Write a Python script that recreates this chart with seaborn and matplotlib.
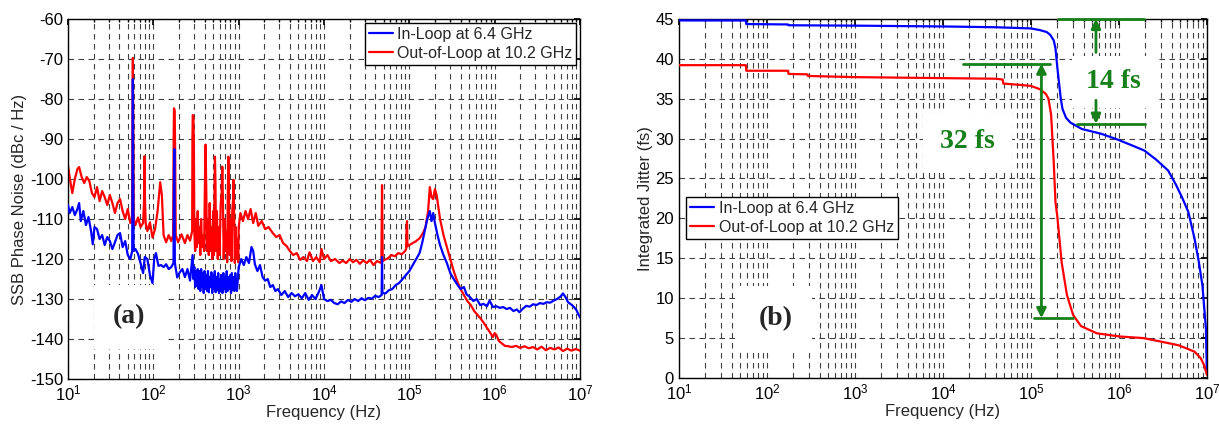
import numpy as np
import matplotlib
matplotlib.use("Agg")
import matplotlib.pyplot as plt
import seaborn as sns

sns.set_theme(style="white")
plt.rcParams['font.family'] = ['Liberation Sans', 'DejaVu Sans']
plt.rcParams['mathtext.fontset'] = 'custom'
plt.rcParams['mathtext.rm'] = 'Liberation Sans'
plt.rcParams['axes.unicode_minus'] = False

# ---- panel (a): SSB phase noise, log10(f) and dBc/Hz ----
red_pn_logf = [1.00, 1.03, 1.05, 1.08, 1.11, 1.13, 1.16, 1.19, 1.22, 1.25, 1.28, 1.31, 1.34, 1.37, 1.40,
               1.43, 1.46, 1.49, 1.52, 1.55, 1.58, 1.61, 1.64, 1.67, 1.70, 1.73, 1.75, 1.755, 1.76, 1.765,
               1.77, 1.79, 1.82, 1.85, 1.88, 1.89, 1.895, 1.90, 1.91, 1.93, 1.96, 1.99, 2.02, 2.05, 2.08,
               2.10, 2.12, 2.15, 2.18, 2.21, 2.232, 2.238, 2.242, 2.25, 2.255, 2.262, 2.29, 2.33, 2.37, 2.40,
               2.43, 2.455, 2.458, 2.462, 2.47, 2.475, 2.48, 2.49, 2.50, 2.51, 2.52, 2.53, 2.54, 2.55, 2.56,
               2.57, 2.58, 2.595, 2.605, 2.612, 2.62, 2.628, 2.64, 2.65, 2.66, 2.67, 2.68, 2.69, 2.70, 2.71,
               2.718, 2.722, 2.728, 2.735, 2.745, 2.755, 2.765, 2.775, 2.79, 2.80, 2.808, 2.815, 2.825, 2.835, 2.845,
               2.855, 2.865, 2.872, 2.879, 2.886, 2.895, 2.905, 2.915, 2.925, 2.935, 2.94, 2.945, 2.955, 2.965, 2.975,
               2.985, 2.995, 3.00, 3.02, 3.05, 3.08, 3.11, 3.14, 3.17, 3.20, 3.23, 3.27, 3.31, 3.35, 3.40,
               3.44, 3.48, 3.52, 3.56, 3.60, 3.64, 3.68, 3.72, 3.76, 3.80, 3.83, 3.87, 3.91, 3.95, 3.97,
               4.00, 4.04, 4.08, 4.13, 4.18, 4.22, 4.26, 4.30, 4.34, 4.38, 4.42, 4.46, 4.50, 4.54, 4.58,
               4.62, 4.672, 4.677, 4.68, 4.683, 4.688, 4.71, 4.75, 4.79, 4.83, 4.87, 4.91, 4.95, 4.963, 4.968,
               4.973, 4.978, 5.00, 5.04, 5.08, 5.12, 5.16, 5.19, 5.22, 5.24, 5.26, 5.28, 5.30, 5.32, 5.34,
               5.36, 5.40, 5.44, 5.48, 5.52, 5.56, 5.60, 5.64, 5.68, 5.72, 5.76, 5.80, 5.84, 5.88, 5.92,
               5.95, 5.98, 6.00, 6.02, 6.05, 6.08, 6.12, 6.16, 6.20, 6.25, 6.30, 6.35, 6.40, 6.45, 6.50,
               6.55, 6.60, 6.65, 6.70, 6.75, 6.80, 6.85, 6.90, 6.95, 7.00]
red_pn_dbc = [-96.7, -101, -103.5, -100, -97.5, -97, -99.5, -101, -99.5, -100.5, -103.5, -104.5, -102, -105.5, -103,
              -104.5, -106.5, -104, -106, -108.5, -106, -105, -108, -110, -107.5, -111, -110, -85, -69.7, -88,
              -110, -111.5, -109.6, -112, -111, -106, -94.3, -104, -111, -113, -110.8, -114.6, -112.5, -108, -100.8,
              -104, -114, -115.8, -114, -115.5, -114, -90, -82.3, -83, -92, -114, -115.8, -113.8, -116, -114,
              -115.4, -113, -90, -84, -84.5, -92, -113, -118, -110, -117, -108, -116, -112, -119, -110,
              -117, -114, -118, -100, -91.4, -102, -118, -110, -119, -106, -118, -112, -120, -108, -119,
              -100, -94.4, -101, -118, -108, -120, -112, -119, -106, -104, -96.9, -105, -120, -110, -118,
              -113, -120.8, -105, -94.4, -104, -119, -110, -120.5, -108, -105, -100.2, -106, -121, -112, -120,
              -115, -120.8, -112, -108.5, -110.5, -108, -110, -107.5, -111, -108.5, -111.7, -110.5, -112.5, -112, -113.5,
              -114.5, -114, -116, -116.7, -118, -119, -118.5, -120.2, -119.5, -120.5, -118.3, -120.5, -119.5, -120.8, -117.5,
              -120, -119, -120.5, -120, -121, -120.4, -121, -120, -120.8, -120.2, -121.2, -120.3, -121, -120.2, -121.5,
              -120.5, -121, -108, -101.5, -108, -120.5, -120.2, -119.8, -119, -119.3, -118.5, -118.8, -118, -117.5, -112,
              -110.5, -116.8, -116.5, -116, -115.5, -114.8, -113.5, -112, -108, -102, -104.5, -105, -102.5, -104, -107,
              -110, -114, -117, -120, -123, -125.5, -127.5, -129, -130.5, -131.5, -133, -134, -135, -136.2, -137.5,
              -138.5, -139.5, -138.5, -139, -140.5, -141, -141.7, -141.8, -142, -141.7, -142.2, -141.8, -142.3, -142, -142.6,
              -141.9, -142.8, -142.2, -142.6, -142.1, -143, -142.4, -142.9, -142.5, -142.9]

blue_pn_logf = [1.00, 1.02, 1.05, 1.08, 1.11, 1.13, 1.15, 1.18, 1.21, 1.24, 1.27, 1.29, 1.31, 1.34, 1.37,
                1.40, 1.43, 1.46, 1.49, 1.52, 1.55, 1.58, 1.61, 1.64, 1.67, 1.70, 1.73, 1.752, 1.757, 1.76,
                1.763, 1.768, 1.79, 1.82, 1.85, 1.88, 1.90, 1.93, 1.96, 1.99, 2.01, 2.03, 2.06, 2.09, 2.12,
                2.15, 2.18, 2.21, 2.236, 2.242, 2.246, 2.252, 2.28, 2.31, 2.34, 2.37, 2.40, 2.43, 2.46, 2.47,
                2.48, 2.49, 2.50, 2.51, 2.52, 2.53, 2.54, 2.55, 2.56, 2.57, 2.58, 2.59, 2.60, 2.61, 2.62,
                2.63, 2.64, 2.65, 2.66, 2.67, 2.68, 2.69, 2.70, 2.71, 2.72, 2.73, 2.74, 2.75, 2.76, 2.77,
                2.78, 2.79, 2.80, 2.81, 2.82, 2.83, 2.84, 2.85, 2.86, 2.87, 2.88, 2.89, 2.90, 2.91, 2.92,
                2.93, 2.94, 2.95, 2.96, 2.97, 2.98, 3.00, 3.03, 3.06, 3.09, 3.12, 3.15, 3.17, 3.19, 3.22,
                3.25, 3.28, 3.31, 3.34, 3.37, 3.40, 3.43, 3.46, 3.50, 3.54, 3.58, 3.62, 3.66, 3.70, 3.74,
                3.78, 3.82, 3.86, 3.90, 3.94, 3.97, 4.00, 4.04, 4.08, 4.12, 4.16, 4.20, 4.24, 4.28, 4.32,
                4.36, 4.40, 4.44, 4.48, 4.52, 4.56, 4.60, 4.64, 4.675, 4.68, 4.685, 4.72, 4.76, 4.80, 4.84,
                4.88, 4.92, 4.96, 5.00, 5.04, 5.08, 5.12, 5.15, 5.18, 5.21, 5.24, 5.26, 5.28, 5.30, 5.33,
                5.36, 5.40, 5.44, 5.48, 5.52, 5.56, 5.60, 5.64, 5.67, 5.71, 5.75, 5.79, 5.83, 5.87, 5.91,
                5.94, 5.98, 6.02, 6.06, 6.10, 6.14, 6.18, 6.22, 6.26, 6.29, 6.33, 6.37, 6.41, 6.45, 6.49,
                6.53, 6.57, 6.61, 6.65, 6.69, 6.73, 6.77, 6.80, 6.83, 6.86, 6.90, 6.93, 6.96, 6.98, 7.00]
blue_pn_dbc = [-106.5, -108.5, -107, -109, -107.5, -106, -110.5, -108, -111.5, -109.5, -113, -116.3, -112, -112.5, -115,
               -114, -116.5, -114.5, -115.5, -117.5, -115.8, -114, -113.5, -117, -115.5, -119, -120, -118, -95, -75,
               -95, -118, -117.5, -118.7, -121, -123.5, -119.5, -120, -124, -126, -120, -118.5, -121.7, -121.5, -122,
               -121.3, -122.5, -122, -121, -98, -92.5, -121, -124.6, -123.3, -122.5, -124.5, -122.5, -125.4, -119, -125,
               -122, -127, -123, -126.7, -122.5, -127.5, -123, -128, -122.5, -127, -123.5, -128.5, -123, -127.5, -124,
               -128, -123, -128.3, -124.5, -127, -123.3, -128.5, -124, -127.5, -123, -128.3, -124.5, -127.8, -123.5, -128.5,
               -125, -128, -124, -128.5, -123.5, -127.5, -124.5, -128.3, -123, -128, -124.5, -127.5, -124, -128.5, -123.5,
               -127.8, -124.5, -128, -123.5, -127.5, -128, -122, -120, -121.5, -119.5, -121, -117, -118, -121.3, -123,
               -121.5, -124.5, -125.4, -125, -127, -126.5, -128, -127.5, -129, -128, -129.5, -128.5, -129.3, -128.8, -129.8,
               -128.5, -130.2, -129, -130, -128.2, -126.5, -130, -130.5, -130.2, -131, -131.3, -130.6, -131, -130.2, -130.7,
               -130, -130.5, -129.8, -130.3, -129.7, -129.9, -129.2, -129.5, -129, -119.5, -128.5, -128.6, -127.8, -127.5, -126.5,
               -126, -125, -124, -123, -121.5, -120, -118.5, -116, -113, -110, -108, -110.5, -108.5, -111, -114,
               -116.5, -119, -121, -123.5, -125, -126.3, -127.5, -127, -128.8, -129.5, -130.5, -130, -131.5, -131.2, -131.8,
               -130.4, -132, -131.8, -132.2, -132, -132.5, -132.2, -133, -132.6, -133.3, -132.4, -131.7, -131.9, -131.3, -131.5,
               -131, -131.2, -130.8, -130.9, -130.4, -130, -129.4, -128.6, -129.5, -130.8, -131.4, -132, -132.8, -133.8, -134.6]

# ---- panel (b): integrated jitter, log10(f) and fs ----
blue_jit_logf = [1.00, 1.76, 1.765, 2.24, 2.245, 3.0, 4.0, 4.6, 5.0, 5.1, 5.18, 5.22, 5.26, 5.28, 5.30,
                 5.32, 5.34, 5.36, 5.40, 5.45, 5.58, 5.80, 5.98, 6.16, 6.29, 6.42, 6.56, 6.65, 6.72, 6.79,
                 6.86, 6.91, 6.95, 6.99, 7.00]
blue_jit_fs = [44.8, 44.8, 44.35, 44.3, 44.2, 44.15, 44.05, 43.95, 43.8, 43.6, 43.35, 43.0, 42.3, 41.3, 39.0,
               37.0, 35.0, 33.7, 32.6, 32.0, 31.2, 30.6, 29.9, 29.1, 28.5, 27.4, 26.0, 24.2, 22.6, 20.8,
               17.5, 14.5, 11.6, 6.2, 0.8]

red_jit_logf = [1.00, 1.76, 1.765, 2.24, 2.245, 2.46, 2.465, 3.0, 3.8, 4.6, 4.68, 4.685, 4.9, 5.0, 5.1,
                5.17, 5.20, 5.23, 5.26, 5.28, 5.30, 5.35, 5.41, 5.48, 5.57, 5.75, 6.01, 6.28, 6.46, 6.68,
                6.86, 6.93, 6.97, 7.00]
red_jit_fs = [39.2, 39.2, 38.5, 38.5, 38.1, 38.05, 37.85, 37.7, 37.6, 37.5, 37.4, 36.9, 36.7, 36.6, 36.2,
              35.6, 35.0, 33.0, 27.0, 22.0, 20.3, 14.5, 10.4, 7.9, 6.5, 5.6, 5.2, 5.0, 4.6, 4.1,
              3.3, 2.5, 1.6, 0.4]

labels = ['In-Loop at 6.4 GHz', 'Out-of-Loop at 10.2 GHz']
green = '#17801a'

fig = plt.figure(figsize=(12.19, 4.24), dpi=100)
ax1 = fig.add_axes([0.0558, 0.106, 0.42, 0.849])
ax2 = fig.add_axes([0.557, 0.1085, 0.433, 0.847])

for ax in (ax1, ax2):
    ax.set_xscale('log')

sns.lineplot(x=10 ** np.array(blue_pn_logf), y=blue_pn_dbc, ax=ax1, color='#0000ff', lw=1.6,
             estimator=None, sort=False, label=labels[0], zorder=3)
sns.lineplot(x=10 ** np.array(red_pn_logf), y=red_pn_dbc, ax=ax1, color='#ff0000', lw=1.6,
             estimator=None, sort=False, label=labels[1], zorder=2)
sns.lineplot(x=10 ** np.array(blue_jit_logf), y=blue_jit_fs, ax=ax2, color='#0000ff', lw=1.6,
             estimator=None, sort=False, label=labels[0], zorder=3)
sns.lineplot(x=10 ** np.array(red_jit_logf), y=red_jit_fs, ax=ax2, color='#ff0000', lw=1.6,
             estimator=None, sort=False, label=labels[1], zorder=3)

ax1.set_ylim(-150, -60)
ax1.set_yticks(np.arange(-150, -59, 10))
ax2.set_ylim(0, 45)
ax2.set_yticks(np.arange(0, 46, 5))

for ax in (ax1, ax2):
    ax.set_xlim(10, 1e7)
    ax.xaxis.set_major_locator(matplotlib.ticker.LogLocator(base=10, numticks=10))
    ax.xaxis.set_minor_locator(matplotlib.ticker.LogLocator(base=10, subs=np.arange(2, 10), numticks=20))
    ax.grid(True, which='both', axis='x', color='0.25', linestyle=(0, (5, 4)), lw=0.8)
    ax.grid(True, which='major', axis='y', color='0.25', linestyle=(0, (5, 4)), lw=0.8)
    ax.set_axisbelow(True)
    ax.tick_params(which='both', direction='in', top=True, right=True, labelsize=12, colors='black',
                   length=4)
    ax.tick_params(which='minor', length=2)
    for s in ax.spines.values():
        s.set_color('black')
        s.set_linewidth(1.0)
    ax.set_xlabel('Frequency (Hz)', fontsize=12, labelpad=1)

ax1.set_ylabel('SSB Phase Noise (dBc / Hz)', fontsize=12, labelpad=2)
ax2.set_ylabel('Integrated Jitter (fs)', fontsize=12, labelpad=2)

leg_kw = dict(frameon=True, fancybox=False, edgecolor='black', framealpha=1, fontsize=11.5,
              handlelength=1.5, handletextpad=0.3, borderpad=0.25, labelspacing=0.25, borderaxespad=0)
l1 = ax1.legend(loc='upper right', bbox_to_anchor=(0.993, 0.99), **leg_kw)
l2 = ax2.legend(loc='upper left', bbox_to_anchor=(0.013, 0.505), **leg_kw)
for lg in (l1, l2):
    lg.get_frame().set_linewidth(1.0)

serif = ['Liberation Serif', 'DejaVu Serif']
ax1.text(10 ** 1.72, -134.5, '(a)', fontsize=20, fontweight='bold', family=serif, ha='center', va='center',
         bbox=dict(facecolor='white', edgecolor='none', pad=14), zorder=4)
ax2.text(10 ** 2.1, 7.5, '(b)', fontsize=20, fontweight='bold', family=serif, ha='center', va='center',
         bbox=dict(facecolor='white', edgecolor='none', pad=14), zorder=4)

# annotation: 32 fs
ax2.plot([10 ** 4.23, 10 ** 5.22], [39.4, 39.4], color=green, lw=2, zorder=5)
ax2.plot([10 ** 5.03, 10 ** 5.48], [7.5, 7.5], color=green, lw=2, zorder=5)
ax2.annotate('', xy=(10 ** 5.12, 39.4), xytext=(10 ** 5.12, 7.5),
             arrowprops=dict(arrowstyle='<|-|>', color=green, lw=2, mutation_scale=14, shrinkA=0, shrinkB=0),
             zorder=5)
ax2.text(10 ** 4.28, 29.6, '32 fs', fontsize=20, fontweight='bold', family=serif, color=green,
         ha='center', va='center', bbox=dict(facecolor='white', edgecolor='none', pad=12), zorder=4)

# annotation: 14 fs
ax2.plot([10 ** 5.31, 10 ** 6.29], [45, 45], color=green, lw=2, zorder=5, clip_on=False)
ax2.plot([10 ** 5.52, 10 ** 6.3], [31.85, 31.85], color=green, lw=2, zorder=5)
ax2.annotate('', xy=(10 ** 5.74, 45), xytext=(10 ** 5.74, 40.8),
             arrowprops=dict(arrowstyle='-|>', color=green, lw=2, mutation_scale=14, shrinkA=0, shrinkB=0),
             zorder=5)
ax2.annotate('', xy=(10 ** 5.74, 31.85), xytext=(10 ** 5.74, 34.8),
             arrowprops=dict(arrowstyle='-|>', color=green, lw=2, mutation_scale=14, shrinkA=0, shrinkB=0),
             zorder=5)
ax2.text(10 ** 5.94, 37.1, '14 fs', fontsize=20, fontweight='bold', family=serif, color=green,
         ha='center', va='center', bbox=dict(facecolor='white', edgecolor='none', pad=10), zorder=4)

fig.savefig('out.png', dpi=100)
